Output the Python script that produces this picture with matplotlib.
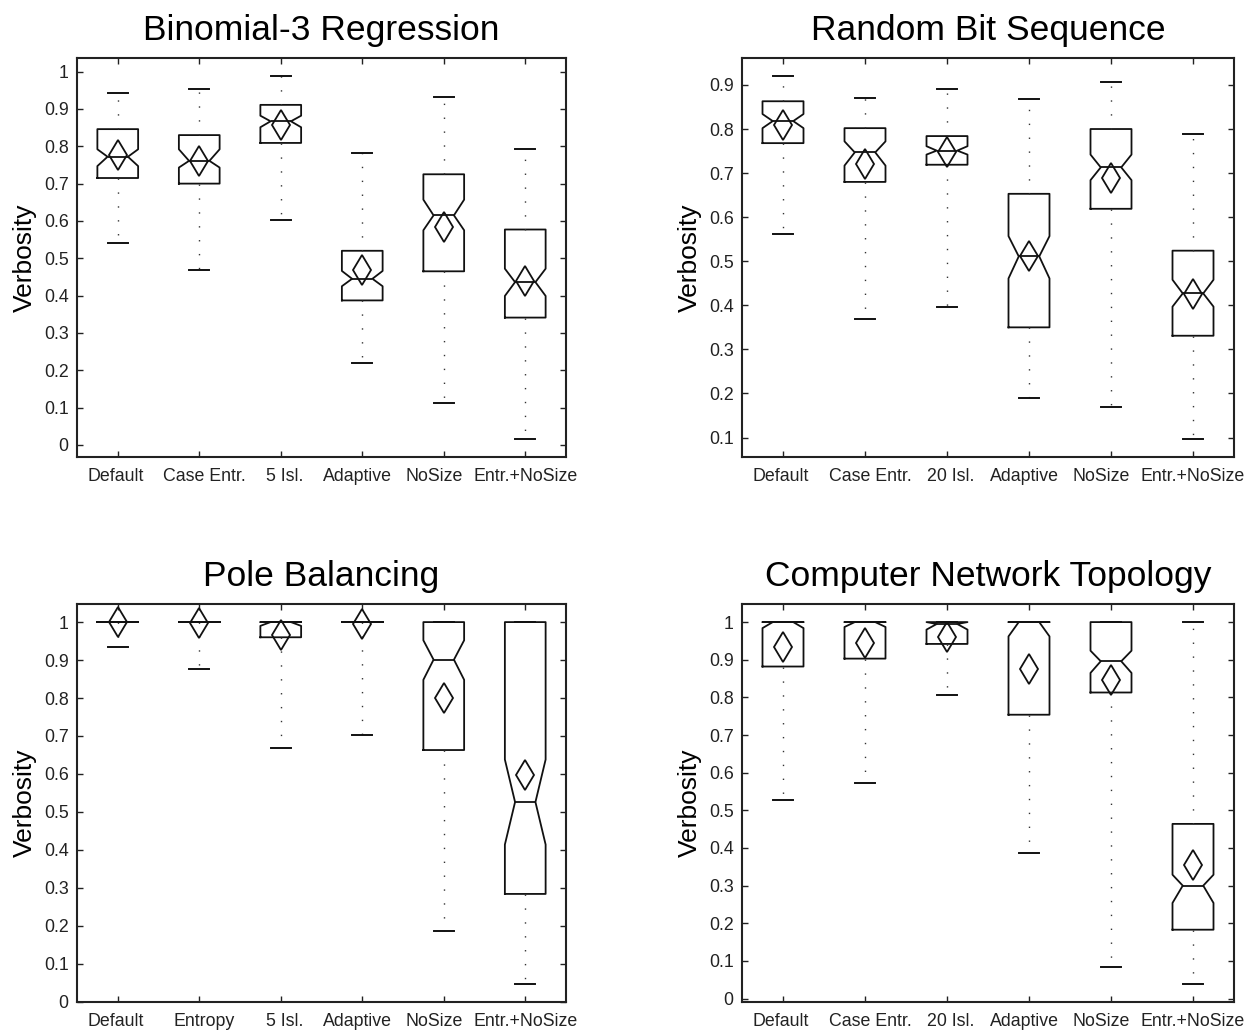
import matplotlib
matplotlib.use('Agg')
import matplotlib.pyplot as plt
from matplotlib.ticker import FormatStrFormatter
from matplotlib.transforms import ScaledTranslation
import numpy as np

plt.rcParams['font.family'] = ['Liberation Sans', 'DejaVu Sans']

# Binomial-3 Regression
binom_labels = ['Default', 'Case Entr.', '5 Isl.', 'Adaptive', 'NoSize', 'Entr.+NoSize']
binom_lo   = [0.541, 0.468, 0.603, 0.219, 0.112, 0.016]
binom_q1   = [0.715, 0.700, 0.809, 0.387, 0.465, 0.341]
binom_med  = [0.772, 0.761, 0.867, 0.445, 0.615, 0.436]
binom_q3   = [0.846, 0.830, 0.911, 0.520, 0.725, 0.577]
binom_hi   = [0.942, 0.954, 0.988, 0.781, 0.933, 0.793]
binom_cilo = [0.747, 0.743, 0.851, 0.425, 0.575, 0.399]
binom_cihi = [0.792, 0.792, 0.882, 0.466, 0.657, 0.472]
binom_mean = [0.776, 0.760, 0.856, 0.468, 0.583, 0.439]

# Random Bit Sequence
rbs_labels = ['Default', 'Case Entr.', '20 Isl.', 'Adaptive', 'NoSize', 'Entr.+NoSize']
rbs_lo   = [0.562, 0.370, 0.397, 0.189, 0.170, 0.097]
rbs_q1   = [0.768, 0.680, 0.719, 0.350, 0.619, 0.331]
rbs_med  = [0.818, 0.747, 0.751, 0.511, 0.713, 0.427]
rbs_q3   = [0.863, 0.802, 0.784, 0.653, 0.800, 0.524]
rbs_hi   = [0.920, 0.870, 0.890, 0.868, 0.907, 0.788]
rbs_cilo = [0.802, 0.717, 0.742, 0.461, 0.684, 0.397]
rbs_cihi = [0.834, 0.772, 0.761, 0.557, 0.742, 0.458]
rbs_mean = [0.808, 0.721, 0.747, 0.511, 0.690, 0.425]

# Pole Balancing
pole_labels = ['Default', 'Entropy', '5 Isl.', 'Adaptive', 'NoSize', 'Entr.+NoSize']
pole_lo   = [0.934, 0.876, 0.668, 0.702, 0.186, 0.047]
pole_q1   = [1.0, 1.0, 0.960, 1.0, 0.663, 0.284]
pole_med  = [1.0, 1.0, 1.0, 1.0, 0.901, 0.526]
pole_q3   = [1.0, 1.0, 1.0, 1.0, 1.0, 1.0]
pole_hi   = [1.0, 1.0, 1.0, 1.0, 1.0, 1.0]
pole_cilo = [1.0, 1.0, 0.990, 1.0, 0.848, 0.414]
pole_cihi = [1.0, 1.0, 1.0, 1.0, 0.952, 0.638]
pole_mean = [0.999, 0.997, 0.967, 0.995, 0.800, 0.596]

# Computer Network Topology
cnt_labels = ['Default', 'Case Entr.', '20 Isl.', 'Adaptive', 'NoSize', 'Entr.+NoSize']
cnt_lo   = [0.528, 0.573, 0.806, 0.387, 0.083, 0.039]
cnt_q1   = [0.882, 0.903, 0.942, 0.754, 0.813, 0.183]
cnt_med  = [1.0, 1.0, 0.995, 1.0, 0.896, 0.300]
cnt_q3   = [1.0, 1.0, 1.0, 1.0, 1.0, 0.464]
cnt_hi   = [1.0, 1.0, 1.0, 1.0, 1.0, 1.0]
cnt_cilo = [0.984, 0.987, 0.980, 0.962, 0.865, 0.254]
cnt_cihi = [1.0, 1.0, 1.0, 1.0, 0.924, 0.329]
cnt_mean = [0.935, 0.944, 0.960, 0.876, 0.845, 0.354]

# small sideways nudge (pixels) of the x labels, like the original figure
label_nudge = [-2, 5, 4, -5, -10, 0]


def draw(ax, title, labels, lo, q1, med, q3, hi, cilo, cihi, mean, yticks):
    stats = []
    for i in range(len(labels)):
        stats.append(dict(whislo=lo[i], q1=q1[i], med=med[i], q3=q3[i],
                          whishi=hi[i], cilo=cilo[i], cihi=cihi[i],
                          mean=mean[i], fliers=[]))
    ax.bxp(stats, positions=np.arange(1, len(labels) + 1), widths=0.5,
           capwidths=0.25, shownotches=True, showmeans=True, showfliers=False,
           boxprops=dict(color='#111111', lw=1.3),
           whiskerprops=dict(color='#333333', ls=(0, (1, 9)), lw=1.0),
           capprops=dict(color='#111111', lw=1.4),
           medianprops=dict(color='#111111', lw=1.3),
           meanprops=dict(marker='d', markerfacecolor='none',
                          markeredgecolor='#111111', markersize=15,
                          markeredgewidth=1.3))
    ymin = min(lo)
    ymax = max(hi)
    pad = 0.05 * (ymax - ymin)
    ax.set_ylim(ymin - pad, ymax + pad)
    ax.set_xlim(0.5, len(labels) + 0.5)
    ax.set_yticks(yticks)
    ax.yaxis.set_major_formatter(FormatStrFormatter('%g'))
    ax.set_xticks(np.arange(1, len(labels) + 1))
    ax.set_xticklabels(labels)
    ax.tick_params(direction='in', top=True, right=True, length=4,
                   width=1.0, labelsize=12.8, colors='#222222')
    ax.tick_params(axis='y', pad=6)
    ax.tick_params(axis='x', pad=8)
    for lab, dx in zip(ax.get_xticklabels(), label_nudge):
        lab.set_transform(lab.get_transform() +
                          ScaledTranslation(dx / 100.0, 0, fig.dpi_scale_trans))
    for s in ax.spines.values():
        s.set_linewidth(1.5)
        s.set_color('#222222')
    ax.set_title(title, fontsize=25.5, pad=13)
    ax.set_ylabel('Verbosity', fontsize=19, labelpad=5)


fig = plt.figure(figsize=(12.59, 10.32), dpi=100)
W, H = 1259.0, 1032.0
ax1 = fig.add_axes([77 / W, 1 - 457 / H, 489 / W, 399 / H])
ax2 = fig.add_axes([742 / W, 1 - 457 / H, 492 / W, 399 / H])
ax3 = fig.add_axes([77 / W, 1 - 1002 / H, 489 / W, 398 / H])
ax4 = fig.add_axes([742 / W, 1 - 1002 / H, 492 / W, 398 / H])

draw(ax1, 'Binomial-3 Regression', binom_labels, binom_lo, binom_q1, binom_med,
     binom_q3, binom_hi, binom_cilo, binom_cihi, binom_mean,
     np.round(np.arange(0, 1.01, 0.1), 1))
draw(ax2, 'Random Bit Sequence', rbs_labels, rbs_lo, rbs_q1, rbs_med,
     rbs_q3, rbs_hi, rbs_cilo, rbs_cihi, rbs_mean,
     np.round(np.arange(0.1, 0.91, 0.1), 1))
draw(ax3, 'Pole Balancing', pole_labels, pole_lo, pole_q1, pole_med,
     pole_q3, pole_hi, pole_cilo, pole_cihi, pole_mean,
     np.round(np.arange(0, 1.01, 0.1), 1))
draw(ax4, 'Computer Network Topology', cnt_labels, cnt_lo, cnt_q1, cnt_med,
     cnt_q3, cnt_hi, cnt_cilo, cnt_cihi, cnt_mean,
     np.round(np.arange(0, 1.01, 0.1), 1))

fig.savefig('out.png', dpi=100)
